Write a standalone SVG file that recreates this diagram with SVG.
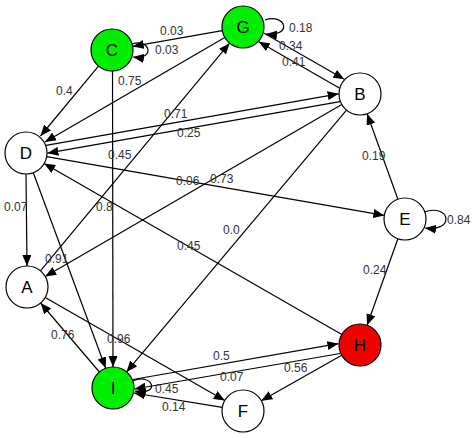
<svg xmlns="http://www.w3.org/2000/svg" width="474" height="438" viewBox="0 0 474 438">
<defs>
<marker id="arr" markerUnits="userSpaceOnUse" markerWidth="11" markerHeight="9" viewBox="0 0 11 9" refX="11" refY="4.5" orient="auto">
<path d="M0,0 L11,4.5 L0,9 z" fill="#000"/>
</marker>
</defs>
<style>
.e{stroke:#000;stroke-width:1.2;fill:none;marker-end:url(#arr)}
.n{stroke:#000;stroke-width:1.2}
.w{fill:#fff}
.g{fill:#00ee00}
.r{fill:#ee0000}
.nl{font-family:"Liberation Sans",Arial,sans-serif;font-size:17px;fill:#000;text-anchor:middle}
.el{font-family:"Liberation Sans",Arial,sans-serif;font-size:12px;fill:#333}
</style>
<rect width="474" height="438" fill="#fff"/>
<g id="connectors">
<line class="e" x1="222.3" y1="30.6" x2="132.7" y2="46.4"/>
<path class="e" d="M132,44 C150,38 156,60 133,57"/>
<path class="e" d="M265,20 C286,13 293,37 266,34"/>
<line class="e" x1="263.7" y1="33.1" x2="344.3" y2="79.3"/>
<line class="e" x1="339.3" y1="88.1" x2="258.7" y2="41.7"/>
<line class="e" x1="98.5" y1="66.1" x2="40.5" y2="136"/>
<line class="e" x1="224.8" y1="37.5" x2="45" y2="142"/>
<line class="e" x1="46" y1="145.4" x2="338.6" y2="93.8"/>
<line class="e" x1="340" y1="101.6" x2="47.4" y2="153.2"/>
<line class="e" x1="40.4" y1="270.8" x2="229.6" y2="43.2"/>
<line class="e" x1="112.5" y1="71" x2="113" y2="367"/>
<line class="e" x1="46.7" y1="156.6" x2="384.3" y2="215.4"/>
<line class="e" x1="341.8" y1="104.5" x2="45.2" y2="276.5"/>
<line class="e" x1="346.5" y1="110.1" x2="126.5" y2="371.9"/>
<line class="e" x1="26" y1="174" x2="27" y2="266"/>
<line class="e" x1="33.3" y1="172.7" x2="105.7" y2="368.3"/>
<line class="e" x1="341.8" y1="334.5" x2="44.2" y2="163.5"/>
<line class="e" x1="397.9" y1="199.2" x2="367.1" y2="113.8"/>
<path class="e" d="M424,212 C450,203 456,232 425,228"/>
<line class="e" x1="397.9" y1="238.8" x2="367.1" y2="325.2"/>
<line class="e" x1="99.4" y1="372" x2="40.6" y2="303"/>
<line class="e" x1="45.2" y1="297.5" x2="224.8" y2="400.5"/>
<line class="e" x1="132.8" y1="379.5" x2="338.4" y2="343.7"/>
<line class="e" x1="340.2" y1="353.5" x2="134.6" y2="389"/>
<line class="e" x1="341.7" y1="355.3" x2="261.3" y2="400.7"/>
<line class="e" x1="222.3" y1="407.3" x2="134" y2="393"/>
<path class="e" d="M133,381 C152,372 162,396 135,391"/>
</g>
<g id="edge-labels">
<text class="el" x="160" y="35">0.03</text>
<text class="el" x="155" y="54">0.03</text>
<text class="el" x="289" y="32">0.18</text>
<text class="el" x="279" y="50">0.34</text>
<text class="el" x="282" y="66">0.41</text>
<text class="el" x="56" y="95">0.4</text>
<text class="el" x="118" y="85">0.75</text>
<text class="el" x="164" y="118">0.71</text>
<text class="el" x="177" y="137">0.25</text>
<text class="el" x="108" y="159">0.45</text>
<text class="el" x="96" y="211">0.8</text>
<text class="el" x="176" y="185">0.06</text>
<text class="el" x="210" y="183">0.73</text>
<text class="el" x="223" y="234">0.0</text>
<text class="el" x="4" y="211">0.07</text>
<text class="el" x="45" y="263">0.91</text>
<text class="el" x="177" y="250">0.45</text>
<text class="el" x="362" y="160">0.19</text>
<text class="el" x="447" y="224">0.84</text>
<text class="el" x="363" y="274">0.24</text>
<text class="el" x="51" y="339">0.76</text>
<text class="el" x="107" y="343">0.96</text>
<text class="el" x="213" y="360">0.5</text>
<text class="el" x="220" y="381">0.07</text>
<text class="el" x="284" y="372">0.56</text>
<text class="el" x="162" y="411">0.14</text>
<text class="el" x="155" y="393">0.45</text>
</g>
<g id="G"><circle class="n g" cx="243" cy="27" r="21"/><text class="nl" x="243" y="33">G</text></g>
<g id="C"><circle class="n g" cx="112" cy="50" r="21"/><text class="nl" x="112" y="56">C</text></g>
<g id="B"><circle class="n w" cx="360" cy="94" r="21"/><text class="nl" x="360" y="100">B</text></g>
<g id="D"><circle class="n w" cx="26" cy="153" r="21"/><text class="nl" x="26" y="159">D</text></g>
<g id="E"><circle class="n w" cx="405" cy="219" r="21"/><text class="nl" x="405" y="225">E</text></g>
<g id="A"><circle class="n w" cx="27" cy="287" r="21"/><text class="nl" x="27" y="293">A</text></g>
<g id="I"><circle class="n g" cx="113" cy="388" r="21"/><text class="nl" x="113" y="394">I</text></g>
<g id="F"><circle class="n w" cx="243" cy="411" r="21"/><text class="nl" x="243" y="417">F</text></g>
<g id="H"><circle class="n r" cx="360" cy="345" r="21"/><text class="nl" x="360" y="351">H</text></g>
</svg>
